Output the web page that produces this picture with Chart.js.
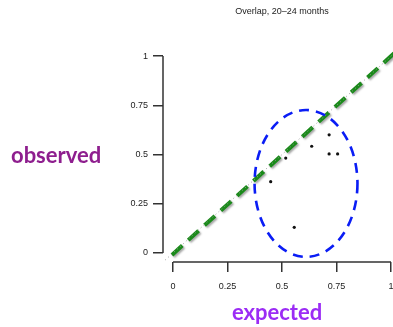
<!DOCTYPE html>
<html><head><meta charset="utf-8">
<script src="https://cdn.jsdelivr.net/npm/chart.js@4"></script>
<style>html,body{margin:0;padding:0;background:#fff}#wrap{width:393px;height:327px}</style>
</head><body><div id="wrap"><canvas id="c" width="393" height="327"></canvas></div>
<script>
const titleText = "Overlap, 20\u201324 months";
const xAxisLabel = "expected";
const yAxisLabel = "observed";
const tickValues = [0, 0.25, 0.5, 0.75, 1];
const tickLabels = ["0", "0.25", "0.5", "0.75", "1"];
const expectedVals = [0.716, 0.636, 0.716, 0.755, 0.517, 0.448, 0.556];
const observedVals = [0.600, 0.542, 0.503, 0.503, 0.482, 0.362, 0.130];
const identityX = [-0.05, 1.05];
const identityY = [-0.05, 1.05];
const fitX = [-0.005, 1.05];
const fitY = [-0.01, 1.05];
const ellipseCenter = [0.610, 0.353];
const ellipseRadii = [0.236, 0.373];

const pts = expectedVals.map((x, i) => ({x, y: observedVals[i]}));
const idLine = identityX.map((x, i) => ({x, y: identityY[i]}));
const fitLine = fitX.map((x, i) => ({x, y: fitY[i]}));

const shadowPlugin = {
  id: 'shadow',
  beforeDatasetDraw(chart, args) {
    if (args.index === 1) {
      const ctx = chart.ctx;
      ctx.save();
      ctx.shadowColor = 'rgba(0,0,0,0.35)';
      ctx.shadowOffsetX = 1.5;
      ctx.shadowOffsetY = 1.5;
      ctx.shadowBlur = 2;
    }
  },
  afterDatasetDraw(chart, args) {
    if (args.index === 1) chart.ctx.restore();
  }
};

const decor = {
  id: 'decor',
  afterDatasetsDraw(chart) {
    const ctx = chart.ctx, xs = chart.scales.x, ys = chart.scales.y;
    const cx = xs.getPixelForValue(ellipseCenter[0]);
    const cy = ys.getPixelForValue(ellipseCenter[1]);
    const rx = Math.abs(xs.getPixelForValue(ellipseCenter[0] + ellipseRadii[0]) - cx);
    const ry = Math.abs(ys.getPixelForValue(ellipseCenter[1] + ellipseRadii[1]) - cy);
    ctx.save();
    ctx.strokeStyle = '#0a1df5';
    ctx.lineWidth = 2.6;
    ctx.setLineDash([10, 7]);
    ctx.beginPath();
    ctx.ellipse(cx, cy, rx, ry, 0, 0, Math.PI * 2);
    ctx.stroke();
    ctx.restore();
  },
  afterDraw(chart) {
    const ctx = chart.ctx, xs = chart.scales.x, ys = chart.scales.y;
    ctx.save();
    ctx.strokeStyle = '#333';
    ctx.lineWidth = 1.5;
    ctx.beginPath();
    const x0 = xs.getPixelForValue(tickValues[0]), x1 = xs.getPixelForValue(tickValues[tickValues.length - 1]);
    ctx.moveTo(x0, xs.top); ctx.lineTo(x1, xs.top);
    const y0 = ys.getPixelForValue(tickValues[0]), y1 = ys.getPixelForValue(tickValues[tickValues.length - 1]);
    ctx.moveTo(ys.right, y0); ctx.lineTo(ys.right, y1);
    ctx.stroke();
    ctx.fillStyle = '#222';
    ctx.font = '9px "Liberation Sans", Arial, sans-serif';
    ctx.textAlign = 'center';
    ctx.textBaseline = 'middle';
    ctx.fillText(titleText, (x0 + x1) / 2, 12);
    ctx.font = 'bold 22px Lato, "Open Sans", sans-serif';
    ctx.fillStyle = '#8e1e8e';
    ctx.textAlign = 'left';
    ctx.fillText(yAxisLabel, 11, 156);
    ctx.fillStyle = '#9b2cf5';
    ctx.textAlign = 'center';
    ctx.fillText(xAxisLabel, 277, 313);
    ctx.restore();
  }
};

new Chart(document.getElementById('c'), {
  type: 'scatter',
  data: {
    datasets: [
      { data: idLine, showLine: true, borderColor: '#999', borderWidth: 1, borderDash: [1, 3], pointRadius: 0, fill: false },
      { data: fitLine, showLine: true, borderColor: '#1a8a1a', borderWidth: 4, borderDash: [14, 8], pointRadius: 0, fill: false },
      { data: pts, pointRadius: 1.6, pointBackgroundColor: '#111', pointBorderWidth: 0, showLine: false }
    ]
  },
  options: {
    responsive: false,
    animation: false,
    layout: { autoPadding: false, padding: { top: 51, right: 0, left: 0, bottom: 0 } },
    plugins: { legend: { display: false }, tooltip: { enabled: false }, title: { display: false } },
    scales: {
      x: {
        type: 'linear', min: -0.046, max: 1.009,
        afterBuildTicks(s) { s.ticks = tickValues.map(v => ({value: v})); },
        afterFit(s) { s.height = 65; s.paddingLeft = 0; s.paddingRight = 0; },
        grid: { display: true, drawOnChartArea: false, drawTicks: true, tickLength: 10, color: '#333', lineWidth: 1.5 },
        border: { display: false },
        ticks: { padding: 9, color: '#222', font: { family: '"Liberation Sans", Arial, sans-serif', size: 9 }, maxRotation: 0, autoSkip: false,
          callback(v, i) { return tickLabels[i]; } }
      },
      y: {
        type: 'linear', min: -0.046, max: 1.026,
        afterBuildTicks(s) { s.ticks = tickValues.map(v => ({value: v})); },
        afterFit(s) { s.width = 163; s.paddingTop = 0; s.paddingBottom = 0; },
        grid: { display: true, drawOnChartArea: false, drawTicks: true, tickLength: 10, color: '#333', lineWidth: 1.5 },
        border: { display: false },
        ticks: { padding: 5, color: '#222', font: { family: '"Liberation Sans", Arial, sans-serif', size: 9 }, autoSkip: false,
          callback(v, i) { return tickLabels[i]; } }
      }
    }
  },
  plugins: [shadowPlugin, decor]
});
</script></body></html>
